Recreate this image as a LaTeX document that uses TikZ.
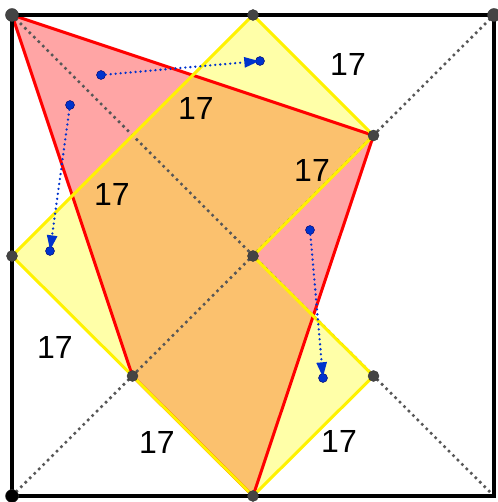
\documentclass[tikz,border=0pt]{standalone}
\usepackage{fontspec}
\setmainfont{Liberation Sans}
\usepackage{xcolor}
\usepackage{tikz}
\usetikzlibrary{arrows.meta}

\definecolor{yellowfill}{HTML}{FFFFA8}
\definecolor{pinkfill}{HTML}{FFA5A5}
\definecolor{orangefill}{HTML}{FBC16E}
\definecolor{ptgray}{HTML}{444444}
\definecolor{vecblue}{HTML}{0033CC}

\begin{document}
\begin{tikzpicture}[
    x=1pt,y=-1pt,
    frame/.style={line width=3.5pt},
    diag/.style={ptgray!90,line width=3.6pt,line cap=round,dash pattern=on 0pt off 6.3pt},
    yline/.style={yellow,line width=3pt,line join=round},
    rline/.style={red,line width=3pt,line join=round},
    pt/.style={circle,draw=ptgray!80!black,fill=ptgray,inner sep=0pt,minimum size=11pt},
    bigpt/.style={pt,minimum size=13pt},
    bdot/.style={circle,draw=blue!40!black,fill=vecblue,inner sep=0pt,minimum size=9pt},
    vec/.style={vecblue,line width=2.6pt,line cap=round,dash pattern=on 0pt off 5pt,
      -{Triangle[length=15pt,width=10pt,line cap=butt,sep=-4pt]}},
    num/.style={font=\fontsize{32}{36}\selectfont,inner sep=0pt}
  ]
    \useasboundingbox (0,0) rectangle (497,502);
    % square and its points
    \coordinate (TL) at (12,15);
    \coordinate (TR) at (494,15);
    \coordinate (BL) at (12,496);
    \coordinate (BR) at (494,496);
    \coordinate (T) at (253,15);
    \coordinate (L) at (12,256);
    \coordinate (B) at (253,496);
    \coordinate (O) at (253,256);
    \coordinate (P) at (373.5,135.5);
    \coordinate (Q) at (132.5,376);
    \coordinate (R) at (373.5,376);
    % fills
    \fill[yellowfill] (T) -- (P) -- (O) -- (R) -- (B) -- (Q) -- (L) -- cycle;
    \fill[pinkfill] (TL) -- (P) -- (B) -- (Q) -- cycle;
    \begin{scope}
      \clip (T) -- (P) -- (O) -- (R) -- (B) -- (Q) -- (L) -- cycle;
      \fill[orangefill] (TL) -- (P) -- (B) -- (Q) -- cycle;
    \end{scope}
    % diagonals
    \draw[diag] (TL) -- (BR);
    \draw[diag] (TR) -- (BL);
    \draw[rline] (TL) -- (P) -- (B) -- (Q) -- cycle;
    \draw[yline] (T) -- (P) -- (O) -- (R) -- (B) -- (Q) -- (L) -- cycle;
    \draw[frame] (TL) rectangle (BR);
    % labels
    \node[num] (n1) at (196,108) {17};
    \node[num] (n2) at (112,194) {17};
    \node[num] (n3) at (348,64) {17};
    \node[num] (n4) at (312,170) {17};
    \node[num] (n5) at (55,347) {17};
    \node[num] (n6) at (157,442) {17};
    \node[num] (n7) at (339,441) {17};
    % vectors
    \node[bdot] (a1) at (101,75) {};
    \node[bdot] (a2) at (260,61) {};
    \node[bdot] (b1) at (70,105) {};
    \node[bdot] (b2) at (50,251) {};
    \node[bdot] (c1) at (310,230) {};
    \node[bdot] (c2) at (323,378) {};
    \draw[vec] (a1) -- (a2);
    \draw[vec] (b1) -- (b2);
    \draw[vec] (c1) -- (c2);
    % points
    \node[bigpt] (pTL) at (TL) {};
    \node[bigpt] (pTR) at (TR) {};
    \node[bigpt,fill=black] (pBL) at (BL) {};
    \node[pt] (pT) at (T) {};
    \node[pt] (pL) at (L) {};
    \node[pt] (pB) at (B) {};
    \node[pt] (pO) at (O) {};
    \node[pt] (pP) at (P) {};
    \node[pt] (pQ) at (Q) {};
    \node[pt] (pR) at (R) {};
  \end{tikzpicture}
\end{document}
